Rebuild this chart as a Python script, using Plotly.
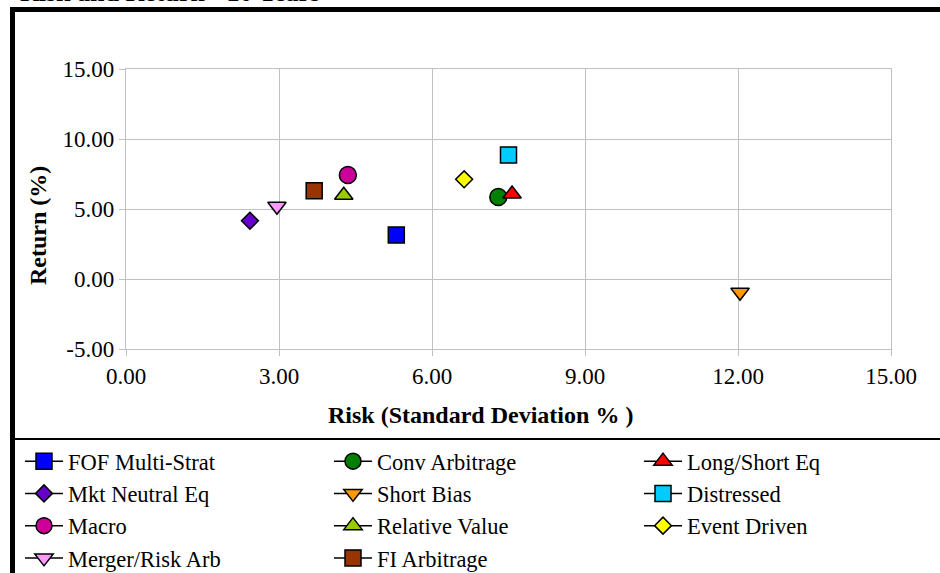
import plotly.graph_objects as go

# Strategy risk/return figures (10-year annualised)
strategies = [
    "FOF Multi-Strat", "Conv Arbitrage", "Long/Short Eq",
    "Mkt Neutral Eq", "Short Bias", "Distressed",
    "Macro", "Relative Value", "Event Driven",
    "Merger/Risk Arb", "FI Arbitrage",
]
risk = [5.30, 7.30, 7.57, 2.43, 12.04, 7.50, 4.35, 4.27, 6.63, 2.96, 3.69]
ret = [3.14, 5.86, 6.07, 4.16, -0.95, 8.86, 7.43, 5.98, 7.12, 5.20, 6.30]

colors = ["#0000FF", "#008000", "#FF0000", "#6600CC", "#FF9900", "#00CCFF",
          "#CC0099", "#99CC00", "#FFFF00", "#FF99FF", "#993300"]
symbols = ["square", "circle", "triangle-up", "diamond", "triangle-down", "square",
           "circle", "triangle-up", "diamond", "triangle-down", "square"]
sizes = {"square": 16, "circle": 17, "triangle-up": 16, "triangle-down": 16, "diamond": 13}

x_ticks = [0, 3, 6, 9, 12, 15]
y_ticks = [-5, 0, 5, 10, 15]

W, H = 940, 573
ML, MR, MT, MB = 126, 49, 69, 224
PW, PH = W - ML - MR, H - MT - MB


def px_x(px):
    return (px - ML) / PW


def px_y(py):
    return (H - MB - py) / PH


SERIF = "Liberation Serif"
GRID = "#c0c0c0"

# legend laid out in three columns, filled row by row
legend_ids = ["legend", "legend2", "legend3"]
legend_left = [20, 329, 639]

fig = go.Figure()
for i, (name, x, y, c, s) in enumerate(zip(strategies, risk, ret, colors, symbols)):
    fig.add_trace(go.Scatter(
        x=[x], y=[y], name=name, mode="lines+markers",
        line=dict(color="black", width=1.5),
        marker=dict(symbol=s, size=sizes[s], color=c,
                    line=dict(color="black", width=1.5)),
        legend=legend_ids[i % 3],
        hoverinfo="x+y+name",
    ))

axis_common = dict(
    showgrid=True, gridcolor=GRID, gridwidth=1.3,
    showline=True, linecolor=GRID, linewidth=1.3, mirror=True,
    zeroline=False, ticks="outside", ticklen=6, tickcolor=GRID, tickwidth=1.3,
    tickfont=dict(family=SERIF, size=23, color="black"),
)

legend_common = dict(
    orientation="v", yanchor="top", xanchor="left", y=px_y(440),
    xref="paper", yref="paper", itemwidth=38,
    font=dict(family=SERIF, size=22.5, color="black"),
    bgcolor="rgba(0,0,0,0)", itemclick=False, itemdoubleclick=False,
)

fig.update_layout(
    width=W, height=H,
    margin=dict(l=ML, r=MR, t=MT, b=MB, autoexpand=False),
    paper_bgcolor="white", plot_bgcolor="white",
    xaxis=dict(range=[0, 15], tickvals=x_ticks,
               ticktext=[f"{v:.2f}" for v in x_ticks], **axis_common),
    yaxis=dict(range=[-5, 15], tickvals=y_ticks,
               ticktext=[f"{v:.2f}" for v in y_ticks], **axis_common),
    showlegend=True,
    legend=dict(x=px_x(legend_left[0]), **legend_common),
    legend2=dict(x=px_x(legend_left[1]), **legend_common),
    legend3=dict(x=px_x(legend_left[2]), **legend_common),
    annotations=[
        dict(text="<b>Risk and Return - 10 Years</b>", x=px_x(18), y=px_y(9),
             xref="paper", yref="paper", xanchor="left", yanchor="bottom",
             showarrow=False, font=dict(family=SERIF, size=26, color="black")),
        dict(text="<b>Risk (Standard Deviation % )</b>", x=px_x(480), y=px_y(415),
             xref="paper", yref="paper", xanchor="center", yanchor="middle",
             showarrow=False, font=dict(family=SERIF, size=24, color="black")),
        dict(text="<b>Return (%)</b>", x=px_x(38), y=px_y(226), textangle=-90,
             xref="paper", yref="paper", xanchor="center", yanchor="middle",
             showarrow=False, font=dict(family=SERIF, size=24, color="black")),
    ],
    shapes=[
        # outer chart frame (runs off the right and bottom edges)
        dict(type="rect", xref="paper", yref="paper",
             x0=px_x(12.5), x1=px_x(960), y0=px_y(9.5), y1=px_y(600),
             line=dict(color="black", width=5), fillcolor="rgba(0,0,0,0)",
             layer="above"),
        # divider above the legend
        dict(type="line", xref="paper", yref="paper",
             x0=px_x(15), x1=px_x(960), y0=px_y(439), y1=px_y(439),
             line=dict(color="black", width=2)),
    ],
)

fig.write_html("out.html")
